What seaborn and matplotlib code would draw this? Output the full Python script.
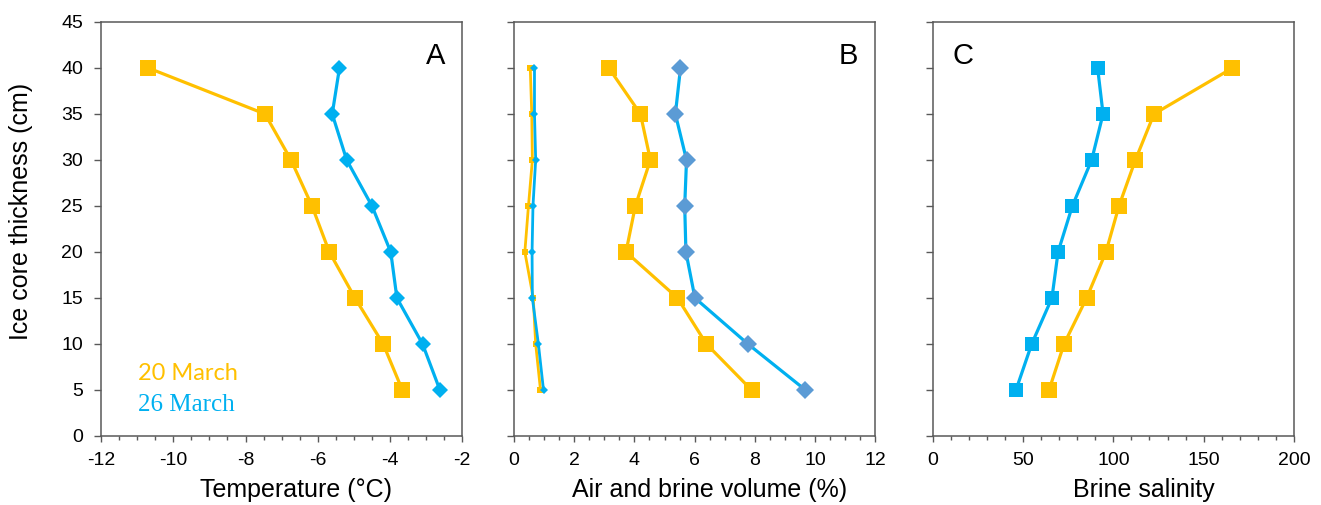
import matplotlib
matplotlib.use("Agg")
import matplotlib.pyplot as plt
import seaborn as sns
import pandas as pd
from matplotlib.ticker import MultipleLocator

sns.set_theme(style="ticks")
plt.rcParams['font.family'] = ['Liberation Sans', 'DejaVu Sans']
plt.rcParams['axes.unicode_minus'] = False

# ---- data ----
depth = [40, 35, 30, 25, 20, 15, 10, 5]

temp_20 = [-10.69, -7.46, -6.74, -6.16, -5.68, -4.97, -4.19, -3.66]
temp_26 = [-5.40, -5.60, -5.20, -4.50, -3.98, -3.81, -3.10, -2.62]

brine_vol_20 = [3.15, 4.20, 4.53, 4.03, 3.72, 5.43, 6.39, 7.89]
brine_vol_26 = [5.53, 5.36, 5.73, 5.67, 5.71, 6.01, 7.77, 9.68]
air_vol_20 = [0.54, 0.59, 0.61, 0.48, 0.36, 0.64, 0.72, 0.88]
air_vol_26 = [0.68, 0.68, 0.72, 0.63, 0.60, 0.61, 0.81, 0.98]

salinity_20 = [165.9, 122.5, 112.2, 103.1, 95.9, 85.2, 72.7, 64.4]
salinity_26 = [91.3, 94.3, 88.0, 77.3, 69.4, 66.0, 54.8, 46.1]

xlabels = ["Temperature (\u00b0C)", "Air and brine volume (%)", "Brine salinity"]
panel_letters = ["A", "B", "C"]
legend_labels = ["20 March", "26 March"]

ORANGE = "#FFC000"
BLUE = "#00B0F0"
STEEL = "#5B9BD5"
SPINE = "#595959"

fig = plt.figure(figsize=(13.21, 5.05), dpi=100)
W, H = 1321, 505
bottom_px, top_px = 436, 22
lefts = [101, 514, 932.7]
width_px = 361.3
axes = []
for l in lefts:
    axes.append(fig.add_axes([l / W, 1 - bottom_px / H, width_px / W, (bottom_px - top_px) / H]))


def draw(ax, x, y, color, marker, ms, mfc=None, lw=2.3):
    df = pd.DataFrame({"x": x, "y": y})
    sns.lineplot(data=df, x="x", y="y", ax=ax, sort=False, estimator=None,
                 color=color, lw=lw, marker=marker, markersize=ms,
                 markerfacecolor=mfc or color, markeredgecolor=mfc or color,
                 markeredgewidth=0)

# Panel A
draw(axes[0], temp_20, depth, ORANGE, "s", 11)
draw(axes[0], temp_26, depth, BLUE, "D", 8)
# Panel B
draw(axes[1], air_vol_20, depth, ORANGE, "s", 4.5, lw=2)
draw(axes[1], air_vol_26, depth, BLUE, "D", 4, lw=2)
draw(axes[1], brine_vol_20, depth, ORANGE, "s", 11)
draw(axes[1], brine_vol_26, depth, BLUE, "D", 9, mfc=STEEL)
# Panel C
draw(axes[2], salinity_20, depth, ORANGE, "s", 11)
draw(axes[2], salinity_26, depth, BLUE, "s", 10.5)

xlims = [(-12, -2), (0, 12), (0, 200)]
xmaj = [2, 2, 50]
xmin = [0.5, 0.5, 10]
xlab_pos = [0.54, 0.542, 0.585]
letter_x = [0.926, 0.926, 0.084]

for i, ax in enumerate(axes):
    ax.set_xlim(*xlims[i])
    ax.set_ylim(0, 45)
    ax.xaxis.set_major_locator(MultipleLocator(xmaj[i]))
    ax.xaxis.set_minor_locator(MultipleLocator(xmin[i]))
    ax.yaxis.set_major_locator(MultipleLocator(5))
    for s in ax.spines.values():
        s.set_visible(True)
        s.set_color(SPINE)
        s.set_linewidth(1.1)
    ax.tick_params(axis="x", which="major", direction="out", length=4.5, width=1.0,
                   color=SPINE, labelsize=14, pad=7, labelcolor="black")
    ax.tick_params(axis="x", which="minor", direction="out", length=3, width=1.0, color=SPINE)
    ax.tick_params(axis="y", which="major", direction="out", length=5, width=1.0,
                   color=SPINE, labelsize=14, pad=8, labelcolor="black")
    ax.set_xlabel(xlabels[i], fontsize=18, color="black")
    ax.xaxis.set_label_coords(xlab_pos[i], -0.101)
    ax.set_ylabel("")
    ax.text(letter_x[i], 0.918, panel_letters[i], transform=ax.transAxes,
            fontsize=21, ha="center", va="center", color="black")
    if i > 0:
        ax.tick_params(axis="y", labelleft=False)
    ax.grid(False)

axes[0].set_ylabel("Ice core thickness (cm)", fontsize=18, color="black")
axes[0].yaxis.set_label_coords(-0.188, 0.542)

axes[0].text(0.102, 0.151, legend_labels[0], transform=axes[0].transAxes,
             fontsize=17, color=ORANGE, ha="left", va="center", family=["Lato", "DejaVu Sans"])
axes[0].text(0.102, 0.076, legend_labels[1], transform=axes[0].transAxes,
             fontsize=18, color=BLUE, ha="left", va="center", family=["Liberation Serif", "DejaVu Serif"])

fig.savefig("out.png", dpi=100)
